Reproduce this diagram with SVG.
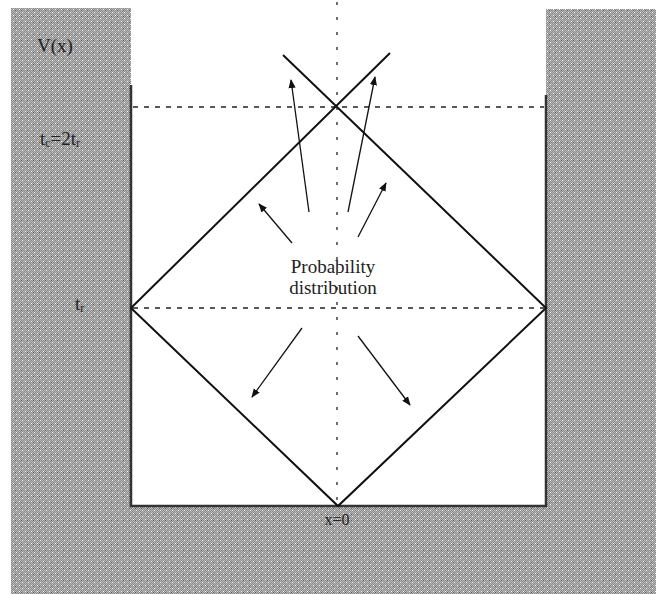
<svg xmlns="http://www.w3.org/2000/svg" width="656" height="594" viewBox="0 0 656 594">
<defs>
<pattern id="hatch" patternUnits="userSpaceOnUse" width="6" height="6">
<rect width="6" height="6" fill="#8c8c8c"/>
<rect x="0" y="0" width="1" height="1" fill="#b8b8b8"/><rect x="2" y="0" width="1" height="1" fill="#b8b8b8"/><rect x="4" y="0" width="1" height="1" fill="#ffffff"/>
<rect x="1" y="1" width="1" height="1" fill="#b8b8b8"/><rect x="3" y="1" width="1" height="1" fill="#b8b8b8"/><rect x="5" y="1" width="1" height="1" fill="#b8b8b8"/>
<rect x="0" y="2" width="1" height="1" fill="#b8b8b8"/><rect x="2" y="2" width="1" height="1" fill="#b8b8b8"/><rect x="4" y="2" width="1" height="1" fill="#b8b8b8"/>
<rect x="1" y="3" width="1" height="1" fill="#ffffff"/><rect x="3" y="3" width="1" height="1" fill="#b8b8b8"/><rect x="5" y="3" width="1" height="1" fill="#b8b8b8"/>
<rect x="0" y="4" width="1" height="1" fill="#b8b8b8"/><rect x="2" y="4" width="1" height="1" fill="#b8b8b8"/><rect x="4" y="4" width="1" height="1" fill="#b8b8b8"/>
<rect x="1" y="5" width="1" height="1" fill="#b8b8b8"/><rect x="3" y="5" width="1" height="1" fill="#b8b8b8"/><rect x="5" y="5" width="1" height="1" fill="#b8b8b8"/>
<rect x="3" y="4" width="1" height="1" fill="#555555"/>
</pattern>
<marker id="arr" viewBox="0 0 10 10" refX="9" refY="5" markerWidth="9" markerHeight="9" markerUnits="userSpaceOnUse" orient="auto">
<path d="M0,1 L10,5 L0,9 Z" fill="#111"/>
</marker>
<style>
.lbl{font-family:"Liberation Serif","Times New Roman",serif;fill:#222;}
.wall{stroke:#333;stroke-width:2.5;fill:none;}
.dash{stroke:#222;stroke-width:1.3;stroke-dasharray:5 6;fill:none;}
.dot{stroke:#222;stroke-width:1.3;stroke-dasharray:3 12;fill:none;}
.arrow{stroke:#111;stroke-width:1.3;fill:none;marker-end:url(#arr);}
.diag{stroke:#111;stroke-width:2;fill:none;}
</style>
</defs>
<rect width="656" height="594" fill="#ffffff"/>
<g id="potential">
<path d="M11,8 H131 V506 H546 V9 H656 V594 H11 Z" fill="url(#hatch)"/>
<path class="wall" d="M131,85 V506 H546 V95"/>
</g>
<g id="axes">
<line class="dot" x1="337" y1="2" x2="337" y2="506"/>
<line class="dash" x1="133" y1="107" x2="544" y2="107"/>
<line class="dash" x1="133" y1="308" x2="544" y2="308"/>
</g>
<g id="connectors">
<polyline class="diag" points="390,53 131,308 338,506 546,308 283,55"/>
<line class="arrow" x1="309" y1="212" x2="291" y2="80"/>
<line class="arrow" x1="348" y1="212" x2="375" y2="77"/>
<line class="arrow" x1="292" y1="243" x2="259" y2="204"/>
<line class="arrow" x1="358" y1="237" x2="386" y2="183"/>
<line class="arrow" x1="302" y1="328" x2="252" y2="397"/>
<line class="arrow" x1="358" y1="336" x2="410" y2="405"/>
</g>
<g id="labels">
<text class="lbl" x="37" y="52" font-size="19">V(x)</text>
<text class="lbl" x="40" y="145" font-size="19">t<tspan font-size="12" dy="2">c</tspan><tspan dy="-2">=2t</tspan><tspan font-size="12" dy="2">r</tspan></text>
<text class="lbl" x="75" y="310" font-size="19">t<tspan font-size="12" dy="2">r</tspan></text>
<text class="lbl" x="333" y="273" font-size="19" text-anchor="middle">Probability</text>
<text class="lbl" x="333" y="294" font-size="19" text-anchor="middle">distribution</text>
<text class="lbl" x="337" y="525" font-size="16" text-anchor="middle">x=0</text>
</g>
</svg>
